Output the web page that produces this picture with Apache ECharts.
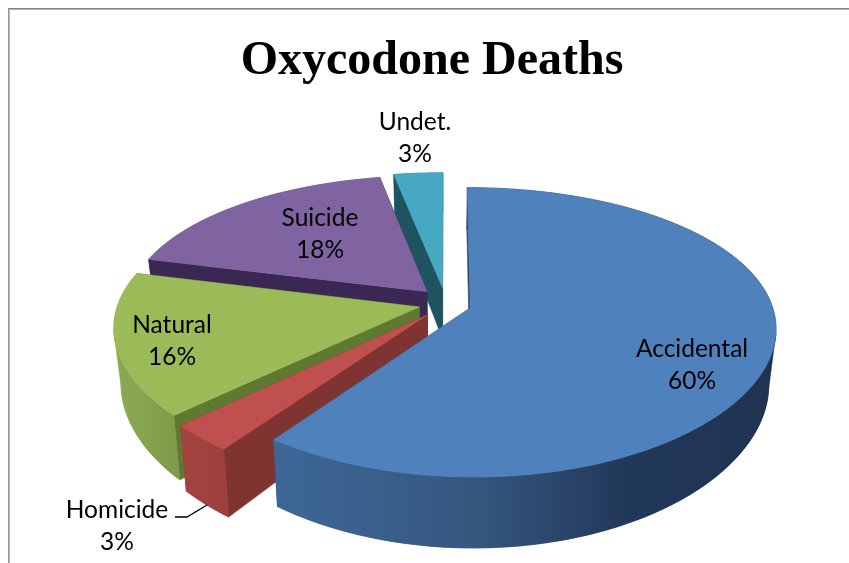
<!DOCTYPE html>
<html><head><meta charset="utf-8">
<style>html,body{margin:0;padding:0;background:#fff}#c{width:849px;height:563px}</style>
<script src="https://cdn.jsdelivr.net/npm/echarts@6/dist/echarts.min.js"></script></head>
<body><div id="c"></div>
<script>
const categories = ['Accidental','Homicide','Natural','Suicide','Undet.'];
const percents = [60,3,16,18,3];
const topColors = ['#4f81bd','#c0504d','#9bbb59','#8064a2','#47a8c4'];
const cutColors = ['#2c4a70','#7f3431','#5f7a30','#3a2754','#1e5360'];
const wallStops = [
  [[0,'#3e6798'],[0.4,'#35577f'],[0.7,'#22385a'],[1,'#1f3350']],
  [[0,'#a5443f'],[1,'#9c403d']],
  [[0,'#8caa52'],[1,'#7f9b4a']],
  [[0,'#5f4a7c'],[1,'#5f4a7c']],
  [[0,'#2f8098'],[1,'#2f8098']]
];
const labelAt = [[692,365],[117,526],[172,341],[320,234],[415,138]];
const chartTitle = 'Oxycodone Deaths';

// projection of the flat pie: radius 1 in the ground plane, perspective towards the back
const P = {x0:445, y0:303, a:301, b:139, k:0.168, kx:0.135, ex:0.088, ey:0.113, depth:53, n:1.52, shrink:0.022};
function project(u,v){const w=1+P.k*v;return [P.x0+P.a*u/(1+P.kx*v), P.y0-P.b*v/w, w];}
function below(p){return [P.x0+(p[0]-P.x0)*(1-P.shrink), p[1]+P.depth/Math.pow(p[2],P.n)];}

const total = percents.reduce((s,v)=>s+v,0);
function renderItem(params, api){
  const i = params.dataIndex, n = percents.length;
  let before = 0; for(let j=0;j<i;j++) before += percents[j];
  const val = api.value(0);
  const a0 = before/total*2*Math.PI, a1 = (before+val)/total*2*Math.PI, mid=(a0+a1)/2;
  const ou = P.ex*Math.sin(mid), ov = P.ey*Math.cos(mid);
  const apex = project(ou,ov);
  const arc = [], frontArc = [];
  const steps = Math.max(6,Math.round((a1-a0)*50));
  for(let s=0;s<=steps;s++){
    const t=a0+(a1-a0)*s/steps;
    const p=project(ou+Math.sin(t),ov+Math.cos(t));
    arc.push(p);
    if(Math.cos(t)<-0.17) frontArc.push(p);
  }
  const xy = p=>[p[0],p[1]];
  const base = (n-i)*10;
  const poly = (points,fill,z)=>({type:'polygon',silent:true,z2:base+z,
    shape:{points:points.map(xy)},style:{fill:fill,stroke:fill,lineWidth:0.5}});
  const wall = (pts,z)=>poly(pts.concat(pts.map(below).reverse()),
      {type:'linear',x:0,y:0,x2:1,y2:0,colorStops:wallStops[i].map(s=>({offset:s[0],color:s[1]}))},z);
  const first=arc[0], last=arc[arc.length-1];
  const children = [
    wall(arc,0),
    poly([apex,first,below(first),below(apex)],cutColors[i],1),
    poly([apex,last,below(last),below(apex)],cutColors[i],2)
  ];
  if(frontArc.length>1) children.push(wall(frontArc,3));
  children.push(
    poly([apex].concat(arc),topColors[i],4),
    {type:'text',silent:true,z2:1000,x:labelAt[i][0],y:labelAt[i][1],
      style:{text:categories[i]+'\n'+val+'%',fill:'#000',font:'24.5px Lato, sans-serif',
        align:'center',verticalAlign:'middle',lineHeight:32}}
  );
  return {type:'group',children};
}
const chart = echarts.init(document.getElementById('c'),null,{renderer:'canvas'});
chart.setOption({
  animation:false,
  backgroundColor:'#fff',
  title:{text:chartTitle,left:427,top:33,textAlign:'center',
    textStyle:{fontFamily:'Liberation Serif',fontWeight:'bold',fontSize:48,color:'#000'}},
  graphic:[
    {type:'rect',silent:true,shape:{x:8,y:8,width:841,height:1},style:{fill:'#808080'}},
    {type:'rect',silent:true,shape:{x:8,y:9,width:841,height:1},style:{fill:'#b4b4b4'}},
    {type:'rect',silent:true,shape:{x:8,y:8,width:1,height:555},style:{fill:'#9a9a9a'}},
    {type:'rect',silent:true,shape:{x:9,y:9,width:1,height:554},style:{fill:'#b4b4b4'}},
    {type:'polyline',silent:true,shape:{points:[[175,517],[187,517],[207,505]]},style:{stroke:'#000',lineWidth:1.3,fill:null},z:5}
  ],
  series:[{type:'custom',coordinateSystem:'none',renderItem,data:percents.map(v=>[v]),silent:true}]
});
</script></body></html>
